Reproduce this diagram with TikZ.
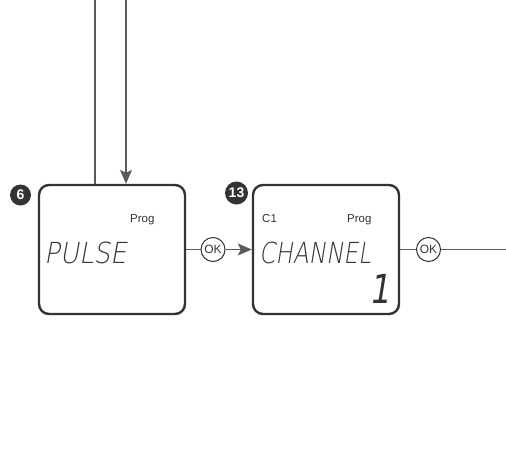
\documentclass[tikz,border=0pt]{standalone}
\usepackage{fontspec}
\setmainfont{Liberation Sans}
\newfontfamily\lcdfont[FakeSlant=0.2]{DejaVu Sans ExtraLight}
\newfontfamily\lcdbold[FakeSlant=0.2]{DejaVu Sans}
\usetikzlibrary{arrows.meta}
\definecolor{frame}{HTML}{333333}
\definecolor{wire}{HTML}{5A5A5A}
\begin{document}
\begin{tikzpicture}[x=1pt,y=-1pt,
  screen/.style={draw=frame,line width=2.4pt,rounded corners=10pt,
    minimum width=146pt,minimum height=129pt,inner sep=0pt},
  wireline/.style={draw=wire,line width=1.2pt},
  flow/.style={wireline,-{Stealth[length=14pt,width=12pt,inset=3pt]}},
  okbtn/.style={circle,draw=frame,line width=1pt,minimum size=24pt,inner sep=0pt,
    font=\fontsize{12}{12}\selectfont,text=frame},
  badge/.style={circle,fill=frame,text=white,inner sep=0pt,minimum size=21pt,
    font=\bfseries\fontsize{14}{14}\selectfont},
  small/.style={font=\fontsize{11.5}{12}\selectfont,text=frame,inner sep=0pt},
  lcd/.style={font=\lcdfont\fontsize{29}{29}\selectfont,text=frame,inner sep=0pt}]
\useasboundingbox (0,0) rectangle (506,469);

% two display screens
\node[screen] (pulse)   at (112,249.5) {};
\node[screen] (channel) at (326,249.5) {};

% step badges
\node[badge] (b6)  at (20.5,195) {6};
\node[badge,minimum size=23pt] (b13) at (236.5,193) {13};

% screen contents
\node[small,anchor=base west] (prog1) at (130,222) {Prog};
\node[lcd,anchor=base west] (pulsetxt) at (44,263) {\scalebox{0.9}[1]{PULSE}};

\node[small,anchor=base west] (c1) at (262,222) {C1};
\node[small,anchor=base west] (prog2) at (347,222) {Prog};
\node[lcd,anchor=base west] (chantxt) at (259,263) {\scalebox{0.8}[1]{CHANNEL}};
\node[lcd,anchor=base east,font=\lcdbold\fontsize{40}{40}\selectfont] (one) at (390,303) {\scalebox{0.8}[1]{1}};

% OK buttons between screens
\node[okbtn] (ok1) at (213,249.5) {OK};
\node[okbtn] (ok2) at (428.5,249.5) {OK};

% incoming lines from above
\coordinate (inA) at (95,0);
\coordinate (inB) at (126,0);
\draw[wireline] (inA) -- (inA |- pulse.north);
\draw[flow] (inB) -- (inB |- pulse.north);

% horizontal flow
\coordinate (out) at (506,249.5);
\draw[wireline] (pulse.east |- ok1) -- (ok1);
\draw[flow] (ok1) -- (channel.west |- ok1);
\draw[wireline] (channel.east |- ok2) -- (ok2);
\draw[wireline] (ok2) -- (out);
\end{tikzpicture}
\end{document}
